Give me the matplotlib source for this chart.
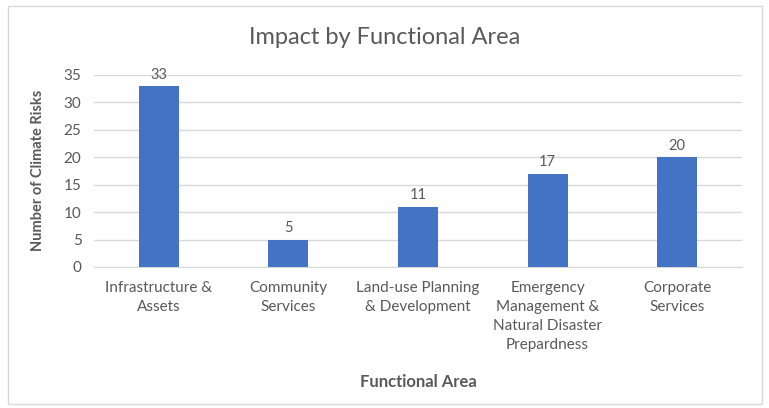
import matplotlib.pyplot as plt
from matplotlib.patches import Rectangle

categories = ["Infrastructure &\nAssets", "Community\nServices", "Land-use Planning\n& Development",
              "Emergency\nManagement &\nNatural Disaster\nPrepardness", "Corporate\nServices"]
values = [33, 5, 11, 17, 20]

plt.rcParams['font.family'] = ['Lato', 'DejaVu Sans']
grey = '#595959'

fig = plt.figure(figsize=(7.69, 4.08), dpi=100)
ax = fig.add_axes([94 / 769, 1 - 267 / 408, 648 / 769, 192 / 408])

fig.patches.append(Rectangle((8 / 769, 4 / 408), 754 / 769, 398 / 408, transform=fig.transFigure,
                             fill=False, edgecolor='#d9d9d9', linewidth=1))

x = range(len(categories))
bars = ax.bar(x, values, width=0.31, color='#4472C4', zorder=3)
for b, v in zip(bars, values):
    ax.text(b.get_x() + b.get_width() / 2, v + 0.8, str(v), ha='center', va='bottom',
            fontsize=10.5, color=grey)

ax.set_xlim(-0.5, len(categories) - 0.5)
ax.set_ylim(0, 35)
ax.set_yticks(range(0, 36, 5))
ax.set_xticks(list(x))
ax.set_xticklabels(categories, fontsize=11, color=grey, linespacing=1.45)
ax.tick_params(axis='y', labelsize=11, labelcolor=grey, length=0, pad=9)
ax.tick_params(axis='x', length=0, pad=10)
ax.grid(axis='y', color='#d9d9d9', linewidth=1, zorder=0)
for s in ['top', 'right', 'left']:
    ax.spines[s].set_visible(False)
ax.spines['bottom'].set_color('#d9d9d9')

fig.text(385 / 769, 1 - 38 / 408, "Impact by Functional Area", ha='center', va='center',
         fontsize=17, color=grey)
fig.text(38 / 769, 1 - 170 / 408, "Number of Climate Risks", ha='center', va='center',
         rotation=90, fontsize=10.5, fontweight='bold', color=grey)
fig.text(418 / 769, 1 - 382 / 408, "Functional Area", ha='center', va='center',
         fontsize=12, fontweight='bold', color=grey)

fig.savefig("out.png", dpi=100)
